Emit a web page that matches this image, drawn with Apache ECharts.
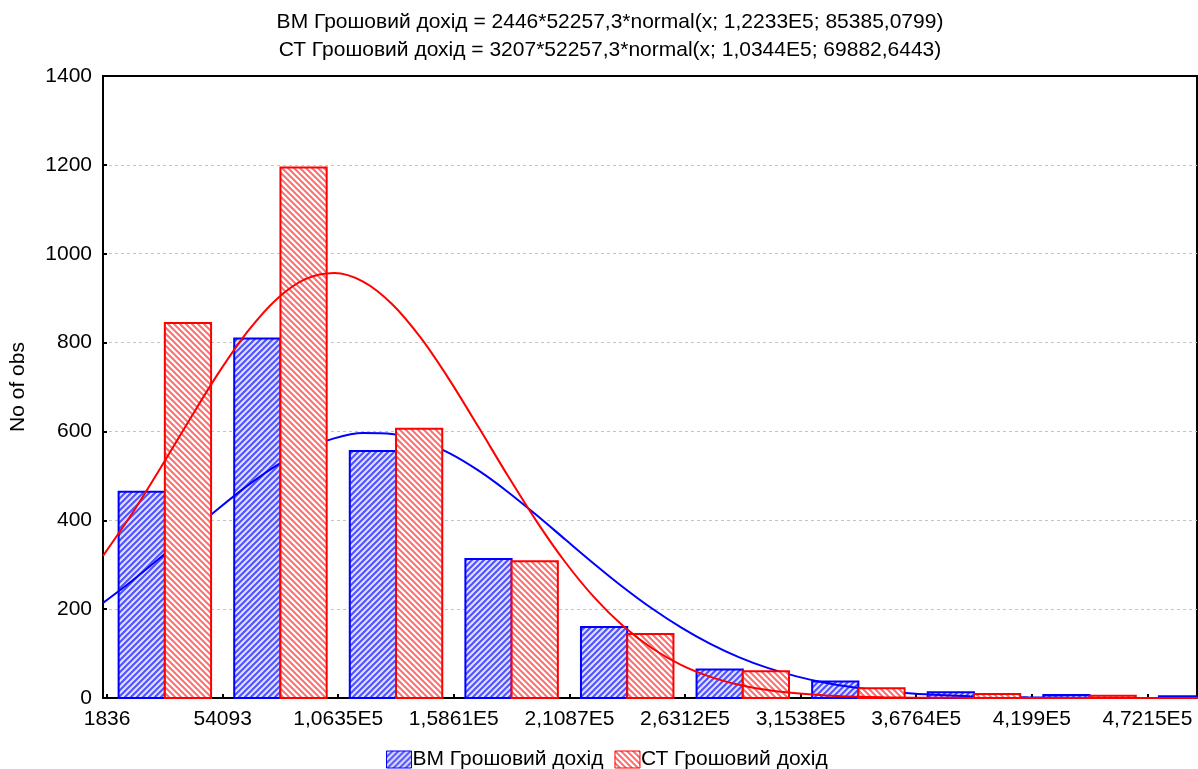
<!DOCTYPE html>
<html>
<head>
<meta charset="utf-8">
<script src="https://cdn.jsdelivr.net/npm/echarts@6/dist/echarts.min.js"></script>
<style>
html,body{margin:0;padding:0;background:#fff;}
#chart{width:1198px;height:769px;}
</style>
</head>
<body>
<div id="chart"></div>
<script>
// ---- data ----
const binWidth = 52257.3;
const tickValues = [1836, 54093.3, 106350.6, 158607.9, 210865.2, 263122.5, 315379.8, 367637.1, 419894.4, 472151.7];
const tickLabels = ['1836', '54093', '1,0635E5', '1,5861E5', '2,1087E5', '2,6312E5', '3,1538E5', '3,6764E5', '4,199E5', '4,7215E5'];
const binStarts = [1836, 54093.3, 106350.6, 158607.9, 210865.2, 263122.5, 315379.8, 367637.1, 419894.4, 472151.7];
const bmCounts = [464, 809, 556, 313, 160, 64, 37, 13, 7, 4];
const ctCounts = [844, 1194, 606, 308, 144, 60, 22, 9, 5, 2];
// fitted normal curves, values at quarter-bin steps (x = 0, 13064.325, 26128.65, ...)
const curveStep = 13064.325;
const bmCurve = [214.0, 263.4, 316.6, 371.8, 426.5, 477.9, 523.1, 559.4, 584.4, 596.3,
  594.4, 578.8, 550.6, 511.6, 464.4, 411.8, 356.7, 301.8, 249.4, 201.4,
  158.9, 122.4, 92.1, 67.7, 48.7, 34.1, 23.4, 15.7, 10.25, 6.55,
  4.08, 2.49, 1.48, 0.86, 0.49, 0.27, 0.15, 0.08, 0.04];
const ctCurve = [319.9, 414.6, 518.8, 627.0, 731.7, 824.5, 897.2, 942.7, 956.6, 937.3,
  886.9, 810.4, 715.0, 609.2, 501.2, 398.2, 305.5, 226.4, 161.9, 111.9,
  74.6, 48.1, 29.9, 18.06, 10.42, 5.84, 3.16, 1.65, 0.83, 0.41,
  0.19, 0.09, 0.04, 0.01, 0, 0, 0, 0, 0];
const titleLines = ['ВМ Грошовий дохід = 2446*52257,3*normal(x; 1,2233E5; 85385,0799)',
  'СТ Грошовий дохід = 3207*52257,3*normal(x; 1,0344E5; 69882,6443)'];
const seriesNames = ['ВМ Грошовий дохід', 'СТ Грошовий дохід'];
const yTitle = 'No of obs';

// ---- hatch patterns ----
function hatch(bg, fg, dir) {
  const c = document.createElement('canvas');
  c.width = 6; c.height = 6;
  const g = c.getContext('2d');
  g.fillStyle = bg; g.fillRect(0, 0, 6, 6);
  g.strokeStyle = fg; g.lineWidth = 2;
  g.beginPath();
  for (let k = -1; k <= 1; k++) {
    if (dir > 0) { g.moveTo(k * 6 - 1, 7); g.lineTo(k * 6 + 7, -1); }
    else { g.moveTo(k * 6 - 1, -1); g.lineTo(k * 6 + 7, 7); }
  }
  g.stroke();
  return c;
}
const bluePat = { image: hatch('#e0e0ff', '#5050ff', 1), repeat: 'repeat' };
const redPat = { image: hatch('#ffffff', '#ff6e6e', -1), repeat: 'repeat' };

const chart = echarts.init(document.getElementById('chart'));
const FONT = 'Liberation Sans, Arial, sans-serif';
const FS = 21;

function barRenderer(off0, off1, fill, stroke) {
  return function (params, api) {
    const s = api.value(0), v = api.value(1);
    const p0 = api.coord([s + off0 * binWidth, 0]);
    const p1 = api.coord([s + off1 * binWidth, v]);
    const cs = params.coordSys;
    const rect = echarts.graphic.clipRectByRect(
      { x: p0[0], y: p1[1], width: p1[0] - p0[0], height: p0[1] - p1[1] },
      { x: cs.x, y: cs.y - 5, width: cs.width, height: cs.height + 10 });
    if (!rect) return null;
    return { type: 'rect', shape: rect, style: { fill: fill, stroke: stroke, lineWidth: 2 } };
  };
}

const option = {
  animation: false,
  backgroundColor: '#fff',
  title: {
    text: titleLines.join('\n'),
    left: 605, top: 3, textAlign: 'center',
    textStyle: { fontFamily: FONT, fontSize: FS, fontWeight: 'normal', color: '#000', lineHeight: 28 }
  },
  legend: {
    left: 381, top: 744,
    itemWidth: 25, itemHeight: 17, itemGap: 11,
    selectedMode: false,
    textStyle: { fontFamily: FONT, fontSize: FS, color: '#000', padding: [0, 0, 0, -4] },
    data: [
      { name: seriesNames[0], icon: 'rect', itemStyle: { color: bluePat, borderColor: '#0000ff', borderWidth: 1 } },
      { name: seriesNames[1], icon: 'rect', itemStyle: { color: redPat, borderColor: '#ff0000', borderWidth: 1 } }
    ]
  },
  grid: { left: 102, top: 76, right: 1, bottom: 71, show: true, borderColor: '#000', borderWidth: 2, backgroundColor: 'transparent' },
  xAxis: {
    type: 'value', min: 0, max: 494600,
    axisLine: { show: true, onZero: false, lineStyle: { color: '#000', width: 2 } },
    axisTick: { show: true, inside: true, length: 4, customValues: tickValues, lineStyle: { color: '#000', width: 2 } },
    axisLabel: {
      customValues: tickValues, color: '#000', fontFamily: FONT, fontSize: FS, margin: 11,
      formatter: function (v) { const i = tickValues.indexOf(v); return i >= 0 ? tickLabels[i] : ''; }
    },
    splitLine: { show: false }
  },
  yAxis: {
    type: 'value', min: 0, max: 1400, interval: 200,
    name: yTitle, nameLocation: 'middle', nameGap: 74,
    nameTextStyle: { fontFamily: FONT, fontSize: FS, color: '#000' },
    axisLine: { show: true, lineStyle: { color: '#000', width: 2 } },
    axisTick: { show: true, inside: true, length: 4, lineStyle: { color: '#000', width: 2 } },
    axisLabel: { color: '#000', fontFamily: FONT, fontSize: FS, margin: 11, formatter: function (v) { return String(v); } },
    splitLine: { show: true, showMinLine: false, showMaxLine: false, lineStyle: { color: '#c4c4c4', type: [3, 3], width: 1 } }
  },
  series: [
    {
      name: seriesNames[0], type: 'custom', z: 2,
      itemStyle: { color: bluePat, borderColor: '#0000ff' },
      renderItem: barRenderer(0.1, 0.5, bluePat, '#0000ff'),
      encode: { x: 0, y: 1 },
      data: binStarts.map((s, i) => [s, bmCounts[i]])
    },
    {
      name: 'ВМ fit', type: 'line', z: 3, smooth: 0.3, showSymbol: false, symbol: 'none',
      lineStyle: { color: '#0000ff', width: 2 }, itemStyle: { color: '#0000ff' },
      data: bmCurve.map((y, i) => [i * curveStep, y])
    },
    {
      name: seriesNames[1], type: 'custom', z: 4,
      itemStyle: { color: redPat, borderColor: '#ff0000' },
      renderItem: barRenderer(0.5, 0.9, redPat, '#ff0000'),
      encode: { x: 0, y: 1 },
      data: binStarts.map((s, i) => [s, ctCounts[i]])
    },
    {
      name: 'СТ fit', type: 'line', z: 5, smooth: 0.3, showSymbol: false, symbol: 'none',
      lineStyle: { color: '#ff0000', width: 2 }, itemStyle: { color: '#ff0000' },
      data: ctCurve.map((y, i) => [i * curveStep, y])
    }
  ]
};
chart.setOption(option);
</script>
</body>
</html>
